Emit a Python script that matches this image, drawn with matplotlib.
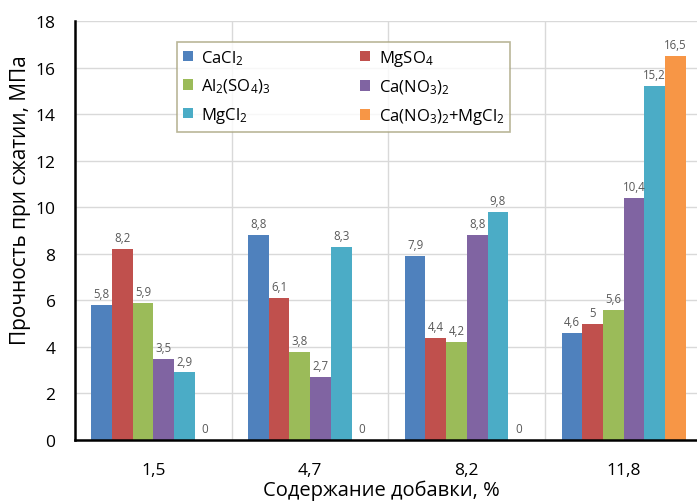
import matplotlib
matplotlib.use("Agg")
import matplotlib.pyplot as plt
from matplotlib.patches import Patch
import numpy as np

plt.rcParams['font.family'] = ['Open Sans', 'DejaVu Sans']
plt.rcParams['mathtext.fontset'] = 'custom'
plt.rcParams['mathtext.rm'] = 'Open Sans'
plt.rcParams['mathtext.it'] = 'Open Sans:italic'
plt.rcParams['mathtext.bf'] = 'Open Sans:bold'
plt.rcParams['mathtext.default'] = 'regular'

# Additive content, %
categories = ['1,5', '4,7', '8,2', '11,8']

# Compressive strength, MPa
cacl2 = [5.8, 8.8, 7.9, 4.6]
mgso4 = [8.2, 6.1, 4.4, 5.0]
al2so43 = [5.9, 3.8, 4.2, 5.6]
cano3 = [3.5, 2.7, 8.8, 10.4]
mgcl2 = [2.9, 8.3, 9.8, 15.2]
cano3_mgcl2 = [0.0, 0.0, 0.0, 16.5]

series_names = ['CaCl$_2$', 'MgSO$_4$', 'Al$_2$(SO$_4$)$_3$', 'Ca(NO$_3$)$_2$',
                'MgCl$_2$', 'Ca(NO$_3$)$_2$+MgCl$_2$']
series_values = [cacl2, mgso4, al2so43, cano3, mgcl2, cano3_mgcl2]
colors = ['#4F81BD', '#C0504D', '#9BBB59', '#8064A2', '#4BACC6', '#F79646']

W, H = 697, 502
fig = plt.figure(figsize=(W / 100, H / 100), dpi=100)
ax = fig.add_axes([75 / W, 1 - 441 / H, (702 - 75) / W, (441 - 22) / H])

x = np.arange(len(categories))
n = len(series_values)
bw = 0.132
for i, (vals, col) in enumerate(zip(series_values, colors)):
    pos = x + (i - (n - 1) / 2) * bw
    ax.bar(pos, vals, width=bw, color=col, edgecolor='none', zorder=3)
    for px, v in zip(pos, vals):
        lbl = ('%g' % v).replace('.', ',')
        ax.annotate(lbl, (px, v), xytext=(0, 3.5), textcoords='offset points',
                    ha='center', va='bottom', fontsize=8.3, color='#595959', zorder=4)

ax.set_xlim(-0.5, 3.5)
ax.set_ylim(0, 18)
ax.set_yticks(np.arange(0, 19, 2))
ax.set_xticks(x)
ax.set_xticklabels(categories)
ax.set_xticks(np.arange(0.5, 3.6, 1), minor=True)
ax.tick_params(axis='x', which='both', length=0, pad=16, labelsize=12.5)
ax.tick_params(axis='y', length=0, pad=14, labelsize=12.5)
ax.grid(axis='y', which='major', color='#D9D9D9', lw=1, zorder=0)
ax.grid(axis='x', which='minor', color='#D9D9D9', lw=1, zorder=0)
for s in ['top', 'right']:
    ax.spines[s].set_visible(False)
for s in ['left', 'bottom']:
    ax.spines[s].set_linewidth(1.8)
    ax.spines[s].set_color('black')
    ax.spines[s].set_zorder(5)

fig.text(21 / W, 1 - 200 / H, 'Прочность при сжатии, МПа', rotation=90,
         ha='center', va='center', fontsize=15)
fig.text(381 / W, 1 - 491 / H, 'Содержание добавки, %', ha='center',
         va='center', fontsize=14.5)

# legend is filled row by row: reorder for matplotlib's column filling
order = [0, 2, 4, 1, 3, 5]
handles = [Patch(facecolor=colors[k], edgecolor='none') for k in order]
labels = [series_names[k] for k in order]
leg = fig.legend(handles, labels, ncol=2, loc='upper left',
                 bbox_to_anchor=(177 / W, 1 - 43 / H), bbox_transform=fig.transFigure,
                 borderaxespad=0, fontsize=12, frameon=True, fancybox=False,
                 handlelength=0.6, handleheight=0.6, handletextpad=0.5,
                 columnspacing=5.4, labelspacing=0.6, borderpad=0.35)
leg.get_frame().set_edgecolor('#A8A47E')
leg.get_frame().set_linewidth(1.2)

fig.savefig('out.png', dpi=100)
